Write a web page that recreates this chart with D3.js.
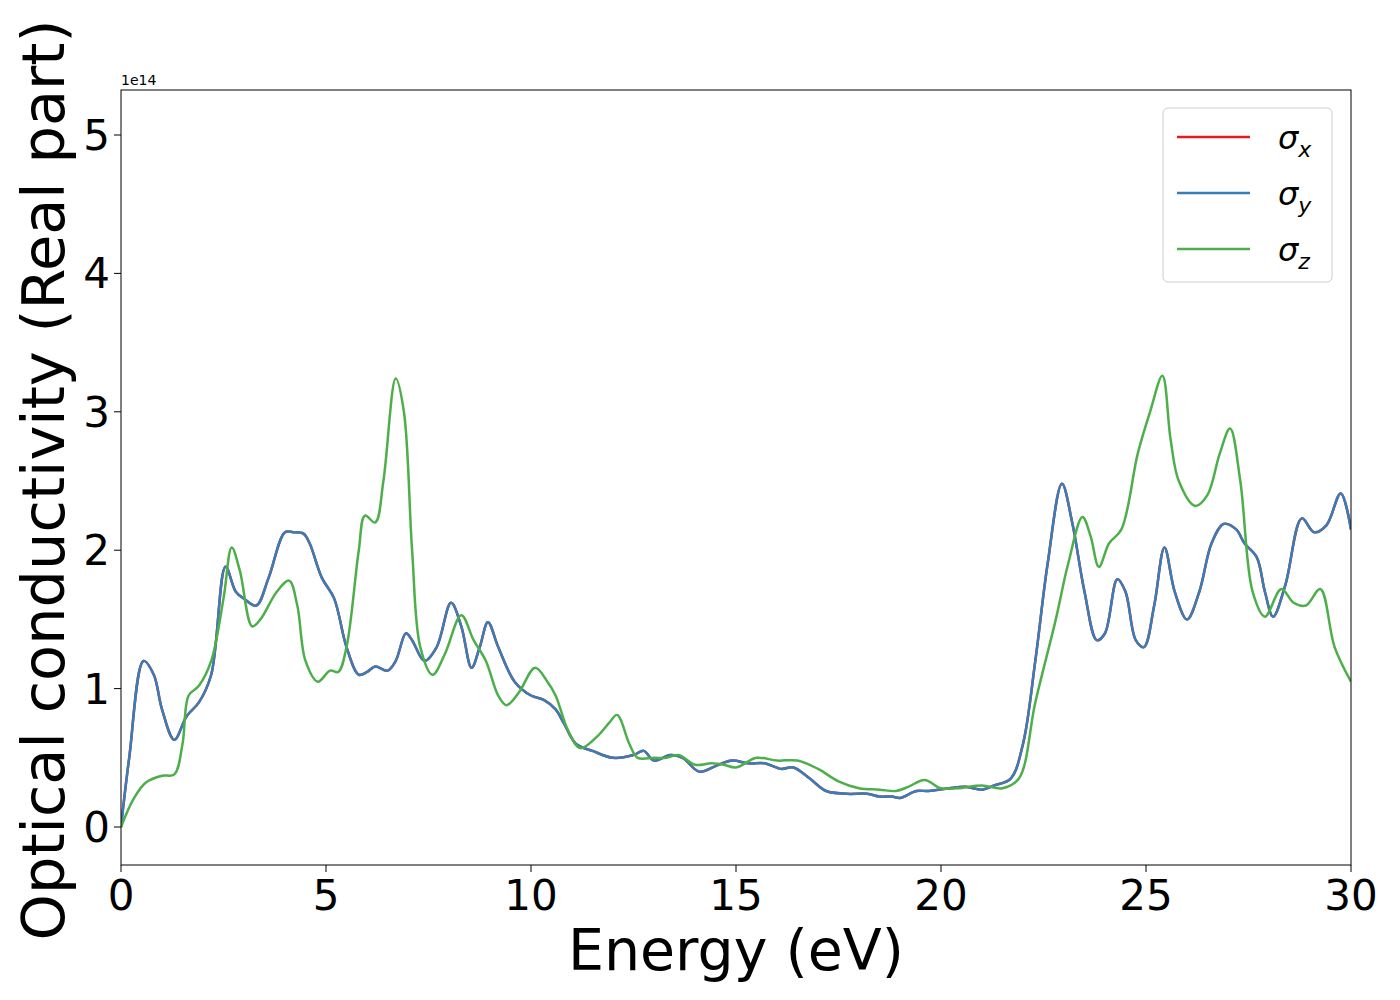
<!DOCTYPE html><html><head><meta charset="utf-8"><script src="https://cdn.jsdelivr.net/npm/d3@7"></script>
<style>body{margin:0;background:#fff}text{font-family:"DejaVu Sans",sans-serif}</style></head><body>
<svg id="c" width="1400" height="1000"></svg>
<script>
const xyEnergy=[0,0.2,0.55,0.8,1.0,1.3,1.6,1.9,2.2,2.55,2.8,3.0,3.3,3.6,4.0,4.2,4.45,4.6,4.9,5.2,5.5,5.8,6.0,6.2,6.5,6.7,6.95,7.1,7.4,7.7,8.05,8.3,8.55,8.75,8.95,9.2,9.6,10.0,10.3,10.6,10.8,11.1,11.5,12.0,12.5,12.75,13.0,13.4,13.7,14.1,14.5,14.9,15.3,15.7,16.1,16.4,16.8,17.2,17.7,18.2,18.5,18.8,19.0,19.4,19.7,20.2,20.6,21.0,21.3,21.7,22.0,22.3,22.6,22.95,23.2,23.5,23.8,24.0,24.3,24.5,24.75,24.95,25.2,25.45,25.7,26.0,26.3,26.6,26.9,27.2,27.4,27.7,27.9,28.1,28.4,28.8,29.1,29.4,29.75,30];
const sigmaXY=[0,0.5,1.2,1.1,0.85,0.63,0.8,0.9,1.1,1.88,1.7,1.65,1.6,1.8,2.13,2.13,2.12,2.05,1.8,1.65,1.3,1.1,1.12,1.16,1.13,1.2,1.4,1.35,1.2,1.3,1.62,1.45,1.15,1.3,1.48,1.3,1.05,0.95,0.92,0.85,0.75,0.6,0.55,0.5,0.52,0.55,0.48,0.52,0.5,0.4,0.44,0.48,0.46,0.46,0.42,0.43,0.35,0.26,0.24,0.24,0.22,0.22,0.21,0.26,0.26,0.28,0.29,0.27,0.3,0.35,0.6,1.2,1.9,2.48,2.2,1.7,1.35,1.4,1.79,1.7,1.35,1.3,1.6,2.02,1.7,1.5,1.7,2.05,2.19,2.15,2.05,1.95,1.7,1.52,1.75,2.23,2.13,2.18,2.41,2.15];
const zEnergy=[0,0.3,0.6,1.0,1.3,1.5,1.65,1.9,2.2,2.5,2.7,2.9,3.2,3.4,3.8,4.1,4.3,4.5,4.8,5.1,5.3,5.5,5.8,5.95,6.2,6.4,6.7,6.9,7.1,7.3,7.6,7.9,8.3,8.6,8.9,9.2,9.4,9.7,10.1,10.4,10.6,10.9,11.2,11.6,11.9,12.1,12.4,12.6,13.0,13.3,13.6,14.0,14.4,14.7,15.0,15.5,16.0,16.5,17.0,17.5,18.0,18.5,18.9,19.2,19.6,20.0,20.4,21.0,21.5,21.9,22.3,22.8,23.1,23.45,23.65,23.85,24.1,24.4,24.8,25.1,25.4,25.6,25.8,26.2,26.5,26.8,27.05,27.3,27.6,27.9,28.3,28.6,28.9,29.25,29.6,30];
const sigmaZ=[0,0.2,0.32,0.37,0.38,0.6,0.95,1.02,1.2,1.65,2.02,1.85,1.45,1.5,1.7,1.78,1.6,1.2,1.05,1.13,1.12,1.3,2.0,2.25,2.2,2.5,3.24,3.0,2.0,1.3,1.1,1.25,1.53,1.35,1.2,0.95,0.88,0.97,1.15,1.05,0.95,0.7,0.57,0.65,0.75,0.81,0.6,0.5,0.5,0.5,0.52,0.45,0.46,0.45,0.43,0.5,0.48,0.48,0.42,0.33,0.28,0.27,0.26,0.29,0.34,0.28,0.28,0.3,0.28,0.35,0.9,1.5,1.9,2.24,2.1,1.88,2.05,2.15,2.7,3.0,3.26,2.8,2.5,2.32,2.4,2.7,2.88,2.5,1.7,1.52,1.72,1.62,1.6,1.72,1.3,1.05];
const xTicks=[0,5,10,15,20,25,30], yTicks=[0,1,2,3,4,5];
const svg=d3.select("#c");
const L=121,R=1351,T=90,B=865;
const x=d3.scaleLinear().domain([0,30]).range([L,R]);
const y=d3.scaleLinear().domain([0,1]).range([827,688.6]);
svg.append("clipPath").attr("id","cp").append("rect").attr("x",L).attr("y",T).attr("width",R-L).attr("height",B-T);
const line=(xs)=>d3.line().x((d,i)=>x(xs[i])).y(d=>y(d)).curve(d3.curveCatmullRom.alpha(0.5));
const series=[["#e41a1c",xyEnergy,sigmaXY],["#377eb8",xyEnergy,sigmaXY],["#4daf4a",zEnergy,sigmaZ]];
series.forEach(([c,xs,ys])=>svg.append("path").attr("clip-path","url(#cp)").attr("d",line(xs)(ys)).attr("fill","none").attr("stroke",c).attr("stroke-width",2.5));
svg.append("rect").attr("x",L).attr("y",T).attr("width",R-L).attr("height",B-T).attr("fill","none").attr("stroke","#000").attr("stroke-width",1);
xTicks.forEach(t=>{svg.append("line").attr("x1",x(t)).attr("x2",x(t)).attr("y1",B).attr("y2",B+7).attr("stroke","#000");
 svg.append("text").attr("x",x(t)).attr("y",B+45).attr("text-anchor","middle").attr("font-size",42).text(t);});
yTicks.forEach(t=>{svg.append("line").attr("x1",L-7).attr("x2",L).attr("y1",y(t)).attr("y2",y(t)).attr("stroke","#000");
 svg.append("text").attr("x",L-11).attr("y",y(t)+15).attr("text-anchor","end").attr("font-size",42).text(t);});
svg.append("text").attr("x",L).attr("y",T-5).attr("font-size",14).text("1e14");
svg.append("text").attr("x",(L+R)/2).attr("y",970).attr("text-anchor","middle").attr("font-size",57).text("Energy (eV)");
svg.append("text").attr("transform",`translate(64,480) rotate(-90)`).attr("text-anchor","middle").attr("font-size",59).text("Optical conductivity (Real part)");
const lg=svg.append("g");
lg.append("rect").attr("x",1163).attr("y",108).attr("width",169).attr("height",174).attr("rx",5).attr("fill","#fff").attr("stroke","#ccc");
[["x","#e41a1c"],["y","#377eb8"],["z","#4daf4a"]].forEach(([s,c],i)=>{const yy=137+i*56;
 lg.append("line").attr("x1",1177).attr("x2",1250).attr("y1",yy).attr("y2",yy).attr("stroke",c).attr("stroke-width",2.5);
 const t=lg.append("text").attr("x",1278).attr("y",yy+12).attr("font-size",32).attr("font-style","italic");
 t.append("tspan").text("σ");t.append("tspan").attr("font-size",22).attr("dy",8).text(s);});
</script></body></html>
